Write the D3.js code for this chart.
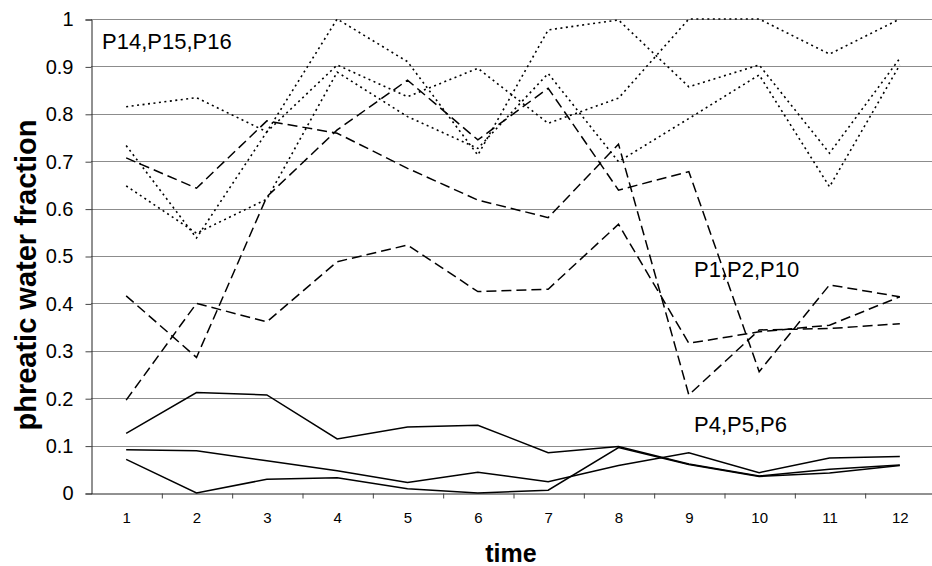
<!DOCTYPE html>
<html>
<head>
<meta charset="utf-8">
<script src="https://cdn.jsdelivr.net/npm/d3@7"></script>
<style>
  body { margin: 0; background: #fff; }
  text { font-family: "Liberation Sans", Arial, sans-serif; fill: #000; }
</style>
</head>
<body>
<div id="chart"></div>
<script>
const MARGIN = { TOP: 19, RIGHT: -3, BOTTOM: 73, LEFT: 91 };
const WIDTH = 932;
const HEIGHT = 566;

// time steps
const times = [1, 2, 3, 4, 5, 6, 7, 8, 9, 10, 11, 12];
const yTicks = [0, 0.1, 0.2, 0.3, 0.4, 0.5, 0.6, 0.7, 0.8, 0.9, 1];

// P14,P15,P16 (dotted)
const p14 = [0.815, 0.834, 0.762, 0.903, 0.836, 0.896, 0.78, 0.833, 1.0, 1.0, 0.926, 1.0];
const p15 = [0.733, 0.538, 0.762, 1.0, 0.91, 0.713, 0.977, 0.998, 0.857, 0.903, 0.717, 0.917];
const p16 = [0.648, 0.548, 0.62, 0.888, 0.794, 0.727, 0.885, 0.699, 0.79, 0.882, 0.646, 0.903];

// P1,P2,P10 (dashed)
const p1 = [0.707, 0.643, 0.785, 0.759, 0.685, 0.618, 0.581, 0.736, 0.207, 0.344, 0.347, 0.357];
const p2 = [0.416, 0.286, 0.625, 0.766, 0.871, 0.745, 0.854, 0.639, 0.678, 0.256, 0.439, 0.414];
const p10 = [0.196, 0.40, 0.361, 0.488, 0.523, 0.425, 0.43, 0.567, 0.316, 0.34, 0.354, 0.414];

// P4,P5,P6 (solid)
const p4 = [0.126, 0.212, 0.207, 0.114, 0.139, 0.143, 0.085, 0.098, 0.061, 0.036, 0.05, 0.059];
const p5 = [0.091, 0.089, 0.068, 0.047, 0.022, 0.044, 0.024, 0.058, 0.085, 0.043, 0.074, 0.077];
const p6 = [0.071, 0.0, 0.029, 0.032, 0.009, 0.0, 0.006, 0.096, 0.060, 0.035, 0.042, 0.058];

const groups = [
    { name: "P14,P15,P16", series: [p14, p15, p16], dash: "2,3.5", width: 1.6, label: [102, 49] },
    { name: "P1,P2,P10", series: [p1, p2, p10], dash: "10,5", width: 1.5, label: [694, 277] },
    { name: "P4,P5,P6", series: [p4, p5, p6], dash: null, width: 1.5, label: [694, 432] }
];

var svg = d3.select("div#chart").append("svg")
    .attr("width", WIDTH)
    .attr("height", HEIGHT);

var x = d3.scaleLinear([0.5, 12.5], [MARGIN.LEFT, WIDTH - MARGIN.RIGHT]);
var y = d3.scaleLinear([0, 1], [HEIGHT - MARGIN.BOTTOM, MARGIN.TOP]);

// gridlines
svg.append("g")
    .attr("class", "grid")
    .selectAll("line")
    .data(yTicks.filter(d => d > 0))
    .join("line")
    .attr("x1", MARGIN.LEFT)
    .attr("x2", WIDTH)
    .attr("y1", d => Math.round(y(d)) + 0.5)
    .attr("y2", d => Math.round(y(d)) + 0.5)
    .attr("stroke", "#8c8c8c")
    .attr("stroke-width", 1);

// y axis
svg.append("g")
    .attr("class", "y-axis")
    .attr("transform", `translate(${MARGIN.LEFT + 0.5},0.5)`)
    .call(d3.axisLeft(y)
        .tickValues(yTicks)
        .tickSize(6)
        .tickPadding(12)
        .tickFormat(d3.format("~g")))
    .call(g => g.select(".domain").attr("stroke", "#222"))
    .call(g => g.selectAll(".tick line").attr("stroke", "#444"))
    .call(g => g.selectAll("text").style("font-size", "20px").attr("fill", "#000"));

// x axis: labels at each time, tick marks between them
svg.append("g")
    .attr("class", "x-axis")
    .attr("transform", `translate(0,${HEIGHT - MARGIN.BOTTOM + 0.5})`)
    .call(d3.axisBottom(x)
        .tickValues(times)
        .tickSize(0)
        .tickPadding(19)
        .tickFormat(d3.format("d")))
    .call(g => g.select(".domain").attr("stroke", "#222"))
    .call(g => g.selectAll("text").style("font-size", "15px").attr("fill", "#000"));

svg.append("g")
    .attr("class", "x-ticks")
    .attr("transform", `translate(0.5,${HEIGHT - MARGIN.BOTTOM + 0.5})`)
    .call(d3.axisBottom(x)
        .tickValues(times.slice(0, -1).map(d => d + 0.5))
        .tickSize(5)
        .tickFormat(""))
    .call(g => g.select(".domain").remove())
    .call(g => g.selectAll(".tick line").attr("stroke", "#444"));

// axis titles
svg.append("text")
    .attr("transform", "translate(36,275) rotate(-90)")
    .attr("text-anchor", "middle")
    .style("font-size", "29px")
    .style("font-weight", "bold")
    .text("phreatic water fraction");

svg.append("text")
    .attr("x", 511)
    .attr("y", 562)
    .attr("text-anchor", "middle")
    .style("font-size", "25px")
    .style("font-weight", "bold")
    .text("time");

const lineFunc = d3.line()
    .x((d, i) => x(times[i]))
    .y(d => y(d));

var lineContainer = svg.append("g")
    .attr("class", "line-container")
    .attr("fill", "none")
    .attr("stroke", "black");

groups.forEach(grp => {
    lineContainer.append("g")
        .selectAll("path")
        .data(grp.series)
        .join("path")
        .attr("d", lineFunc)
        .attr("stroke-width", grp.width)
        .attr("stroke-dasharray", grp.dash);

    svg.append("text")
        .attr("x", grp.label[0])
        .attr("y", grp.label[1])
        .style("font-size", "22px")
        .text(grp.name);
});
</script>
</body>
</html>
